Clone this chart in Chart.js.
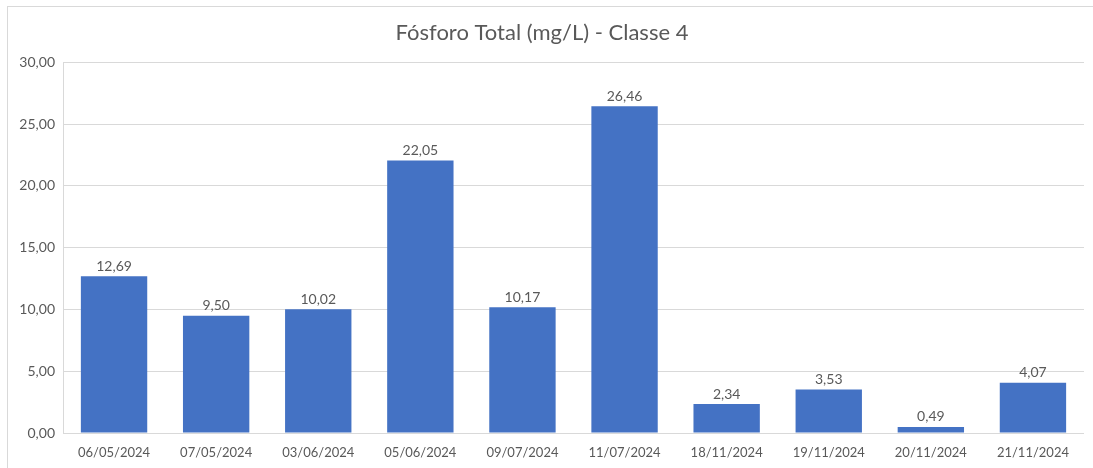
<!DOCTYPE html>
<html>
<head>
<meta charset="utf-8">
<script src="https://cdn.jsdelivr.net/npm/chart.js@4.4.1/dist/chart.umd.min.js"></script>
<style>
  html, body { margin: 0; padding: 0; background: #fff; overflow: hidden; }
  #moldura {
    position: absolute; left: 7px; top: 6px;
    width: 1100px; height: 470px;
    border: 1px solid #d9d9d9; box-sizing: border-box;
  }
  #caixa { position: absolute; left: 0; top: 0; width: 1093px; height: 468px; }
</style>
</head>
<body>
<div id="moldura"></div>
<div id="caixa"><canvas id="graficaFosforo"></canvas></div>
<script>
// datos
const fechas = ["06/05/2024", "07/05/2024", "03/06/2024", "05/06/2024", "09/07/2024",
                "11/07/2024", "18/11/2024", "19/11/2024", "20/11/2024", "21/11/2024"];
const fosforoTotal = [12.69, 9.50, 10.02, 22.05, 10.17, 26.46, 2.34, 3.53, 0.49, 4.07];
const titulo = "Fósforo Total (mg/L) - Classe 4";

const fuente = "Lato, 'Open Sans', sans-serif";
const cinza = "#595959";

function formatoBR(v) {
  return Number(v).toFixed(2).replace(".", ",");
}

// rótulos encima de las barras
const rotulosBarras = {
  id: "rotulosBarras",
  afterDatasetsDraw(chart) {
    const c = chart.ctx;
    const meta = chart.getDatasetMeta(0);
    c.save();
    c.font = "14px " + fuente;
    c.fillStyle = cinza;
    c.textAlign = "center";
    c.textBaseline = "bottom";
    meta.data.forEach((barra, i) => {
      c.fillText(formatoBR(chart.data.datasets[0].data[i]), barra.x, barra.y - 3);
    });
    c.restore();
  }
};

const ctx = document.getElementById("graficaFosforo").getContext("2d");

new Chart(ctx, {
  type: "bar",
  data: {
    labels: fechas,
    datasets: [{
      label: titulo,
      data: fosforoTotal,
      backgroundColor: "#4472C4",
      borderWidth: 0,
      barPercentage: 0.65,
      categoryPercentage: 1
    }]
  },
  options: {
    responsive: true,
    maintainAspectRatio: false,
    animation: false,
    layout: { padding: { left: 0, right: 9, top: 0, bottom: 0 } },
    plugins: {
      legend: { display: false },
      tooltip: { enabled: false },
      title: {
        display: true,
        text: titulo,
        color: cinza,
        font: { family: fuente, size: 22, weight: "normal" },
        padding: { top: 20, bottom: 16 }
      }
    },
    scales: {
      x: {
        afterFit(escala) { escala.height = 35; },
        grid: { display: false, drawTicks: false },
        border: { display: false },
        ticks: {
          color: cinza,
          font: { family: fuente, size: 13 },
          padding: 12,
          maxRotation: 0
        }
      },
      y: {
        min: 0,
        max: 30,
        afterFit(escala) { escala.width = 63; },
        grid: { color: "#d9d9d9", drawTicks: false },
        border: { display: true, color: "#d9d9d9" },
        ticks: {
          stepSize: 5,
          color: cinza,
          font: { family: fuente, size: 14 },
          padding: 8,
          callback: v => formatoBR(v)
        }
      }
    }
  },
  plugins: [rotulosBarras]
});
</script>
</body>
</html>
